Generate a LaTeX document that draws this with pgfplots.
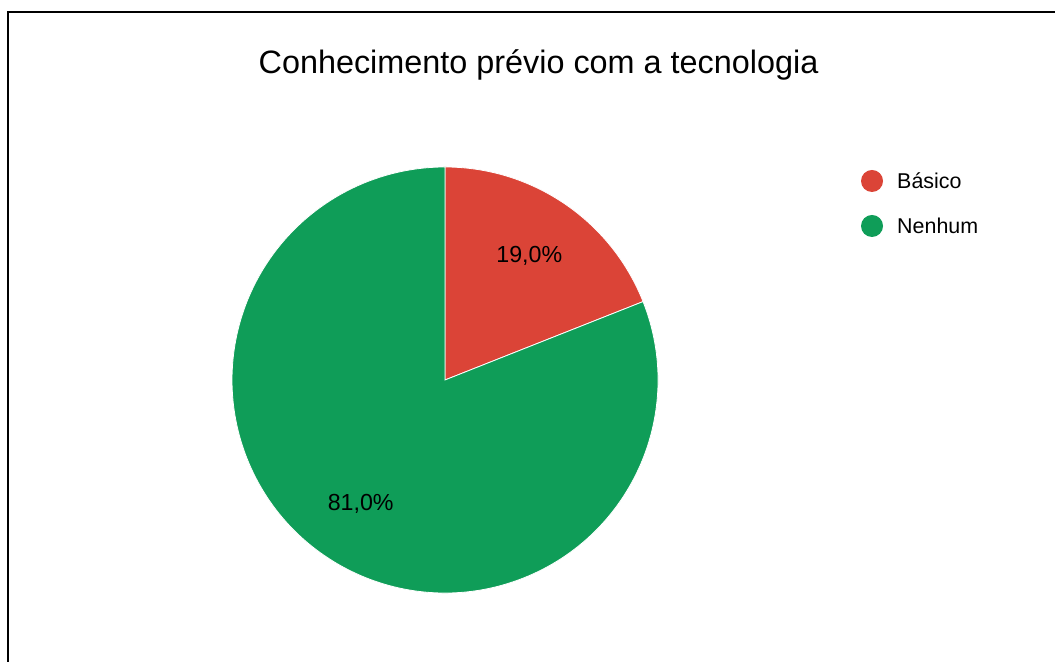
\documentclass[border=0pt]{standalone}
\usepackage{fontspec}
\setmainfont{Liberation Sans}
\usepackage{pgfplots}
\usepackage{pgfplotstable}
\pgfplotsset{compat=1.18}
\definecolor{cred}{HTML}{DB4437}
\definecolor{cgreen}{HTML}{0F9D58}
\pgfplotstableread{
label value
Basico 19.0
Nenhum 81.0
}\piedata
\begin{document}
\begin{tikzpicture}[x=1bp,y=1bp]
\useasboundingbox (0,0) rectangle (1055,662);
\pgfplotstablegetelem{0}{value}\of\piedata\global\let\va\pgfplotsretval
\pgfplotstablegetelem{1}{value}\of\piedata\global\let\vb\pgfplotsretval
\pgfmathsetmacro\aA{90}
\pgfmathsetmacro\aB{90-3.6*\va}
\pgfmathsetmacro\aC{\aB-3.6*\vb}
\pgfmathsetmacro\mA{(\aA+\aB)/2}
\pgfmathsetmacro\mB{(\aB+\aC)/2}
\begin{axis}[at={(0,0)},anchor=south west,scale only axis,
  width=1055bp,height=662bp,xmin=0,xmax=1055,ymin=0,ymax=662,
  hide axis,clip=false,/pgf/number format/assume math mode=true]
\fill[cred,draw=white,line width=0.8bp] (axis cs:445,282) -- ([shift={(\aA:213bp)}]axis cs:445,282) arc[start angle=\aA,end angle=\aB,radius=213bp] -- cycle;
\fill[cgreen,draw=white,line width=0.8bp] (axis cs:445,282) -- ([shift={(\aB:213bp)}]axis cs:445,282) arc[start angle=\aB,end angle=\aC,radius=213bp] -- cycle;
\node at ([shift={(\mA:150bp)}]axis cs:445,282) {\fontsize{23.3}{28}\selectfont\pgfmathprintnumber[fixed,fixed zerofill,precision=1,use comma]{\va}\%};
\node at ([shift={(\mB:150bp)}]axis cs:445,282) {\fontsize{23.3}{28}\selectfont\pgfmathprintnumber[fixed,fixed zerofill,precision=1,use comma]{\vb}\%};
\fill[cred] (axis cs:872,481) circle[radius=11bp];
\fill[cgreen] (axis cs:872,436) circle[radius=11bp];
\node[anchor=west,inner sep=0pt] at (axis cs:897,481) {\fontsize{21.5}{26}\selectfont Básico};
\node[anchor=west,inner sep=0pt] at (axis cs:897,436) {\fontsize{21.5}{26}\selectfont Nenhum};
\node at (axis cs:538.5,597) {\fontsize{32.5}{38}\selectfont Conhecimento prévio com a tecnologia};
\draw[line width=1.5bp] (axis cs:8,0) -- (axis cs:8,650) -- (axis cs:1055,650);
\end{axis}
\end{tikzpicture}
\end{document}
